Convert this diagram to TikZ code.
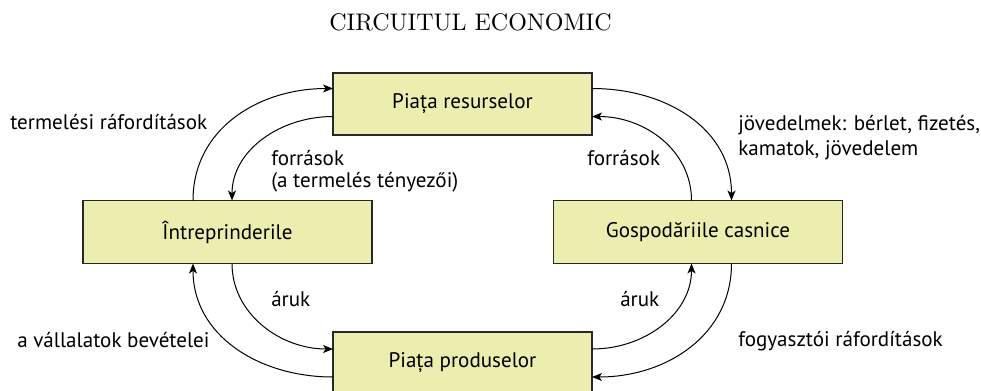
\documentclass[tikz,border=0pt]{standalone}
\usepackage{fontspec}
\newfontfamily\labelfamily{PT Sans}
\newfontfamily\titlefamily{lmroman10-regular.otf}
\usetikzlibrary{arrows.meta,calc}
\definecolor{boxfill}{RGB}{236,238,176}
\definecolor{boxline}{RGB}{40,40,40}
\newcommand{\lblfont}{\labelfamily\fontsize{15.8}{16.7}\selectfont}
\begin{document}
\begin{tikzpicture}[x=0.75pt,y=-0.75pt,
  market/.style={draw=boxline, fill=boxfill, line width=0.9pt,
    minimum width=194.25pt, minimum height=46.5pt, inner sep=0pt, outer sep=0pt, font=\lblfont},
  agent/.style={market, minimum width=216.75pt, minimum height=47.25pt},
  flow/.style={draw, line width=0.75pt, -{Stealth[length=7.5pt,width=6pt,inset=2pt]}},
  lbl/.style={font=\lblfont, inner sep=0pt, anchor=base west, align=left},
  title/.style={font=\titlefamily\fontsize{18}{20}\selectfont, inner sep=0pt, anchor=base}]
\useasboundingbox (0,0) rectangle (981,390);
\node[title] (ttl) at (470.5,30) {CIRCUITUL ECONOMIC};
\node[market] (res) at (462.5,104) {Piața resurselor};
\node[market] (prod) at (462.5,363) {Piața produselor};
\node[agent] (firm) at (227.5,232) {Întreprinderile};
\node[agent] (home) at (698,232) {Gospodăriile casnice};
% top left
\draw[flow] ($(firm.north west)+(110,0)$) .. controls +(0,-72) and +(-74,0) .. ($(res.north west)+(0,15.5)$);
\draw[flow] ($(res.south west)+(0,-18.5)$) .. controls +(-53,0) and +(0,-50) .. ($(firm.north west)+(149,0)$);
% top right
\draw[flow] ($(res.north east)+(0,15.5)$) .. controls +(74,0) and +(0,-72) .. ($(home.north east)+(-111,0)$);
\draw[flow] ($(home.north east)+(-151,0)$) .. controls +(0,-50) and +(53,0) .. ($(res.south east)+(0,-18.5)$);
% bottom left
\draw[flow] ($(prod.north west)+(0,45)$) .. controls +(-74,0) and +(0,72) .. ($(firm.south west)+(110,0)$);
\draw[flow] ($(firm.south west)+(149,0)$) .. controls +(0,50) and +(-53,0) .. ($(prod.north west)+(0,17)$);
% bottom right
\draw[flow] ($(prod.north east)+(0,17)$) .. controls +(53,0) and +(0,50) .. ($(home.south east)+(-151,0)$);
\draw[flow] ($(home.south east)+(-111,0)$) .. controls +(0,72) and +(74,0) .. ($(prod.north east)+(0,45)$);
% labels
\node[lbl] (l1) at (10,129) {termelési ráfordítások};
\node[lbl] (l2) at (271,187.5) {források\\(a termelés tényezői)};
\node[lbl] (l3) at (587,165) {források};
\node[lbl, font=\labelfamily\fontsize{15.8}{18.2}\selectfont] (l4) at (738,155) {jövedelmek: bérlet, fizetés,\\kamatok, jövedelem};
\node[lbl] (l5) at (271,306.7) {áruk};
\node[lbl] (l6) at (620,306.7) {áruk};
\node[lbl] (l7) at (17,347.3) {a vállalatok bevételei};
\node[lbl] (l8) at (738,346.7) {fogyasztói ráfordítások};
\end{tikzpicture}
\end{document}
